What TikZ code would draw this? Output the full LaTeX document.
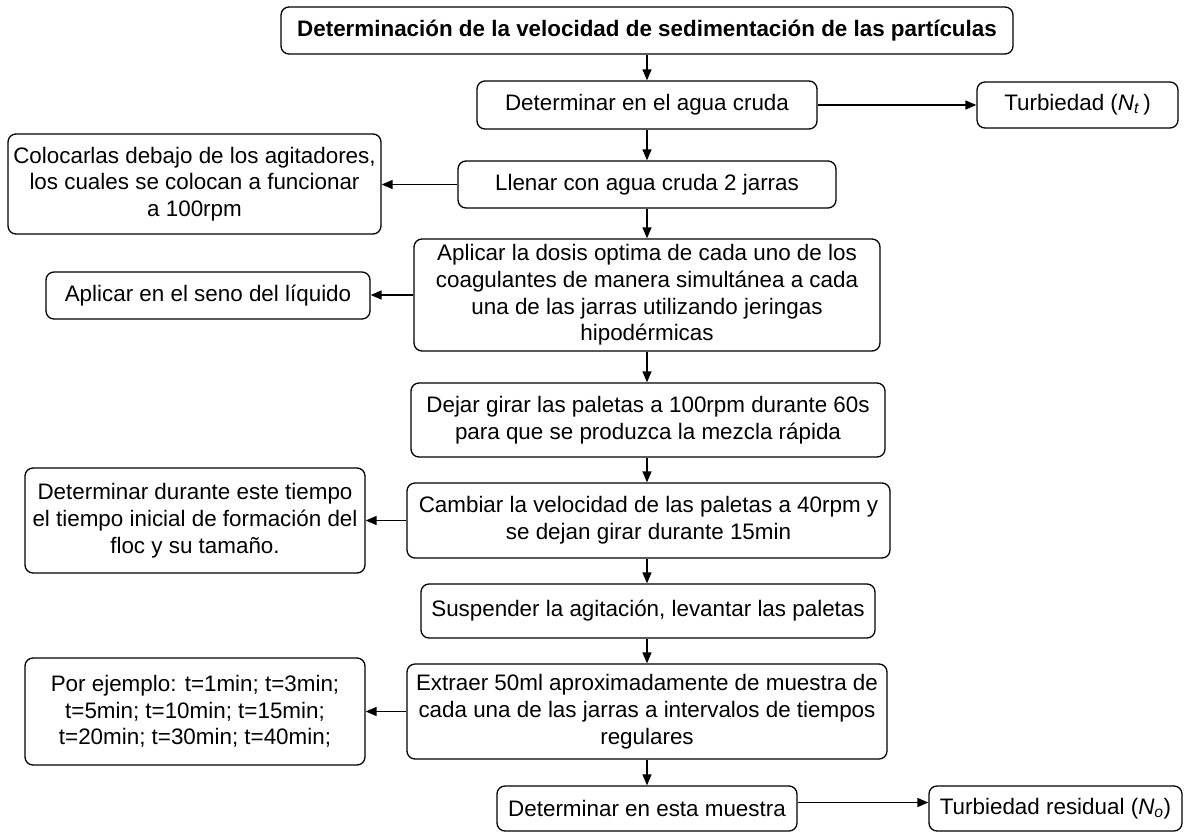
\documentclass[tikz,border=0pt]{standalone}
\usepackage{fontspec}
\setmainfont{Liberation Sans}
\usetikzlibrary{arrows.meta}
\begin{document}
\begin{tikzpicture}[x=1pt,y=-1pt,
  box/.style={draw, rounded corners=8pt, line width=1.3pt, inner sep=0pt, align=center,
    font={\fontsize{22.4}{26.7}\selectfont}},
  arr/.style={-{Triangle[length=11pt,width=9pt]}, line width=1.4pt}]
\useasboundingbox (0,0) rectangle (1188,833);
\node[box, minimum width=732pt, minimum height=47pt, font={\fontsize{22.4}{26.7}\selectfont\bfseries}] (t) at (647,30.5) {Determinación de la velocidad de sedimentación de las partículas};
\node[box, minimum width=340pt, minimum height=48pt] (agua) at (647,105) {Determinar en el agua cruda};
\node[box, minimum width=201pt, minimum height=46pt] (tn) at (1077.5,105) {Turbiedad (\textit{N}\textsubscript{\textit{t}}\,)};
\node[box, minimum width=378pt, minimum height=47pt] (llenar) at (647,184.5) {Llenar con agua cruda 2 jarras};
\node[box, minimum width=373pt, minimum height=100pt] (coloc) at (194.5,184) {Colocarlas debajo de los agitadores,\\los cuales se colocan a funcionar\\a 100rpm};
\node[box, minimum width=466pt, minimum height=112pt] (aplicar) at (647,295) {Aplicar la dosis optima de cada uno de los\\coagulantes de manera simultánea a cada\\una de las jarras utilizando jeringas\\hipodérmicas};
\node[box, minimum width=324pt, minimum height=47pt] (seno) at (208,295.5) {Aplicar en el seno del líquido};
\node[box, minimum width=474pt, minimum height=74pt] (dejar) at (648,420) {Dejar girar las paletas a 100rpm durante 60s\\para que se produzca la mezcla rápida};
\node[box, minimum width=483pt, minimum height=75pt] (cambiar) at (648.5,520.5) {Cambiar la velocidad de las paletas a 40rpm y\\se dejan girar durante 15min};
\node[box, minimum width=340pt, minimum height=105pt] (durante) at (195,520.5) {Determinar durante este tiempo\\el tiempo inicial de formación del\\floc y su tamaño.};
\node[box, minimum width=454pt, minimum height=54pt] (susp) at (648,611) {Suspender la agitación, levantar las paletas};
\node[box, minimum width=480pt, minimum height=95pt] (extraer) at (647,711.5) {Extraer 50ml aproximadamente de muestra de\\cada una de las jarras a intervalos de tiempos\\regulares};
\node[box, minimum width=340pt, minimum height=107pt] (ejemplo) at (195,711.5) {Por ejemplo: t=1min; t=3min;\\t=5min; t=10min; t=15min;\\t=20min; t=30min; t=40min;};
\node[box, minimum width=300pt, minimum height=45pt] (muestra) at (647,808.5) {Determinar en esta muestra};
\node[box, minimum width=253pt, minimum height=45pt] (resid) at (1055.5,808.5) {Turbiedad residual (\textit{N}\textsubscript{\textit{o}})};
% vertical arrows
\draw[arr] (t.south) -- (t.south |- agua.north);
\draw[arr] (agua.south) -- (agua.south |- llenar.north);
\draw[arr] (llenar.south) -- (llenar.south |- aplicar.north);
\draw[arr] (aplicar.south) -- (aplicar.south |- dejar.north);
\draw[arr] (aplicar.south |- dejar.south) -- (aplicar.south |- cambiar.north);
\draw[arr] (aplicar.south |- cambiar.south) -- (aplicar.south |- susp.north);
\draw[arr] (aplicar.south |- susp.south) -- (aplicar.south |- extraer.north);
\draw[arr] (extraer.south) -- (extraer.south |- muestra.north);
% horizontal arrows
\draw[arr] (agua.east) -- (agua.east -| tn.west);
\draw[arr] (llenar.west) -- (llenar.west -| coloc.east);
\draw[arr] (aplicar.west) -- (aplicar.west -| seno.east);
\draw[arr] (cambiar.west) -- (cambiar.west -| durante.east);
\draw[arr] (extraer.west) -- (extraer.west -| ejemplo.east);
\draw[arr] ([yshift=6pt]muestra.east) -- ([yshift=6pt]muestra.east -| resid.west);
\end{tikzpicture}
\end{document}
